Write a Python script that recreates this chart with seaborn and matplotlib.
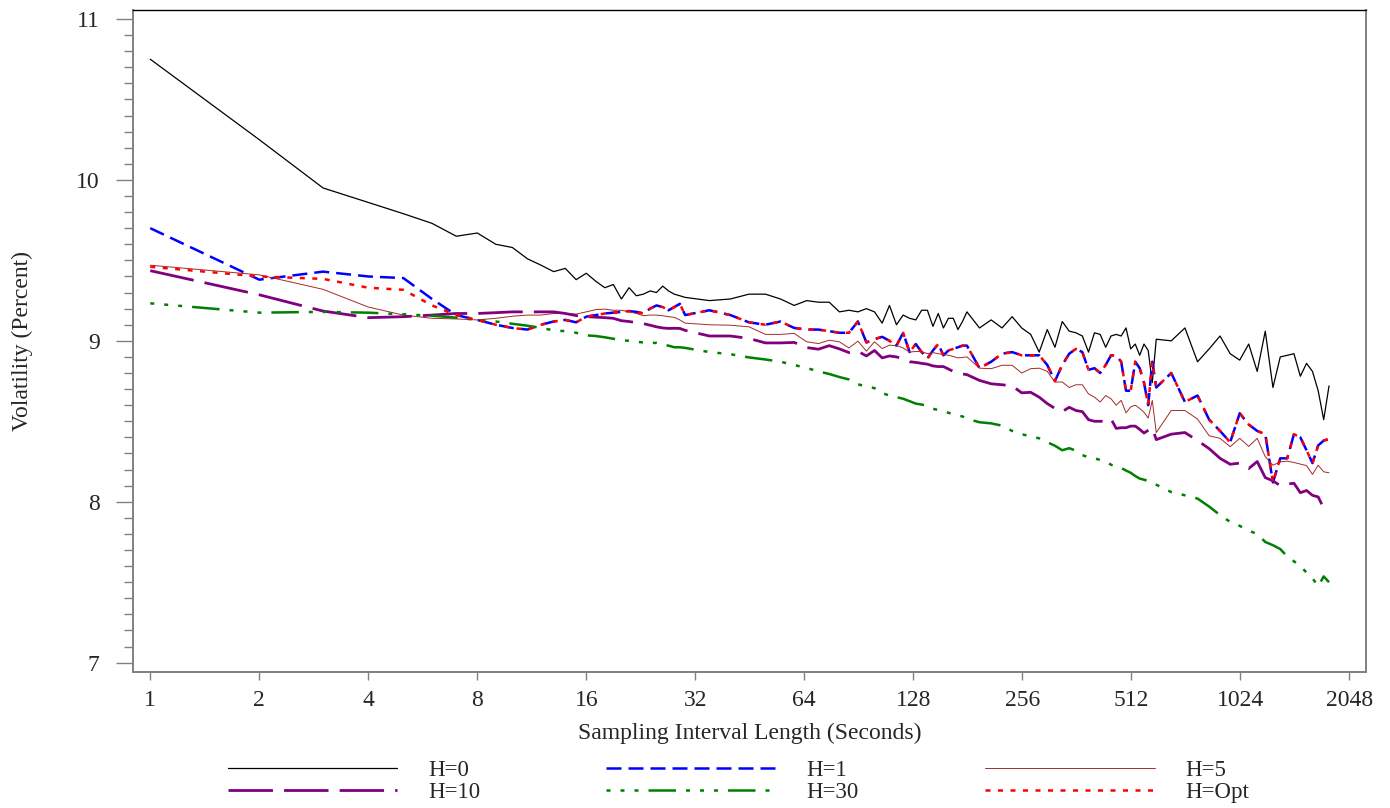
import matplotlib
matplotlib.use("Agg")
import matplotlib.pyplot as plt
import matplotlib.ticker as mticker
import pandas as pd
import seaborn as sns

sns.set_style("ticks")
plt.rcParams["font.family"] = ["Liberation Serif", "DejaVu Serif"]

# sampling interval (seconds): 1..30 by 1, 35..180 by 5, 195..600 by 15, 660..1800 by 60
seconds = [1, 2, 3, 4, 5, 6, 7, 8, 9, 10, 11, 12, 13, 14, 15, 16, 17, 18, 19, 20,
           21, 22, 23, 24, 25, 26, 27, 28, 29, 30,
           35, 40, 45, 50, 55, 60, 65, 70, 75, 80, 85, 90, 95, 100, 105, 110, 115, 120,
           125, 130, 135, 140, 145, 150, 155, 160, 165, 170, 175, 180,
           195, 210, 225, 240, 255, 270, 285, 300, 315, 330, 345, 360, 375, 390, 405,
           420, 435, 450, 465, 480, 495, 510, 525, 540, 555, 570, 585, 600,
           660, 720, 780, 840, 900, 960, 1020, 1080, 1140, 1200, 1260, 1320, 1380,
           1440, 1500, 1560, 1620, 1680, 1740, 1800]

h0 = [10.75, 10.25, 9.95, 9.86, 9.79, 9.73, 9.65, 9.67, 9.60, 9.58,
      9.51, 9.47, 9.43, 9.45, 9.38, 9.42, 9.37, 9.33, 9.35, 9.26,
      9.33, 9.28, 9.29, 9.31, 9.30, 9.34, 9.31, 9.29, 9.28, 9.27,
      9.25, 9.26, 9.29, 9.29, 9.26, 9.22, 9.25, 9.24, 9.24, 9.18,
      9.19, 9.18, 9.20, 9.18, 9.11, 9.22, 9.10, 9.16, 9.14, 9.13,
      9.19, 9.19, 9.09, 9.17, 9.08, 9.14, 9.14, 9.07, 9.12, 9.18,
      9.08, 9.13, 9.08, 9.15, 9.08, 9.04, 8.93, 9.07, 8.96, 9.12,
      9.06, 9.05, 9.03, 8.93, 9.05, 9.04, 8.96, 9.03, 9.04, 9.03,
      9.08, 8.95, 8.98, 8.91, 8.98, 8.94, 8.74, 9.01,
      9.00, 9.08, 8.87, 8.95, 9.03, 8.92, 8.88, 8.98, 8.81, 9.06,
      8.71, 8.90, 8.91, 8.92, 8.78, 8.86, 8.81, 8.69, 8.51, 8.72]

h1 = [9.70, 9.38, 9.43, 9.40, 9.39, 9.26, 9.16, 9.13, 9.10, 9.08,
      9.07, 9.10, 9.12, 9.13, 9.115, 9.15, 9.16, 9.17, 9.175, 9.18,
      9.185, 9.18, 9.17, 9.20, 9.22, 9.21, 9.19, 9.21, 9.23, 9.16,
      9.19, 9.16, 9.115, 9.10, 9.12, 9.08, 9.07, 9.07, 9.06, 9.05,
      9.05, 9.12, 8.99, 9.01, 9.025, 9.00, 8.97, 9.05, 8.93, 8.98,
      8.93, 8.89, 8.94, 8.98, 8.91, 8.94, 8.95, 8.96, 8.97, 8.97,
      8.83, 8.87, 8.92, 8.93, 8.91, 8.91, 8.91, 8.85, 8.75, 8.85,
      8.92, 8.95, 8.93, 8.82, 8.83, 8.80, 8.85, 8.91, 8.91, 8.87,
      8.69, 8.69, 8.87, 8.83, 8.74, 8.60, 8.87, 8.71,
      8.80, 8.62, 8.66, 8.51, 8.44, 8.37, 8.55, 8.48, 8.44, 8.42,
      8.12, 8.27, 8.27, 8.42, 8.40, 8.32, 8.24, 8.35, 8.38, 8.39]

h5 = [9.47, 9.41, 9.32, 9.21, 9.16, 9.14, 9.136, 9.13, 9.14, 9.153,
      9.16, 9.16, 9.17, 9.17, 9.166, 9.18, 9.194, 9.197, 9.19, 9.19,
      9.18, 9.17, 9.156, 9.16, 9.16, 9.156, 9.15, 9.146, 9.13, 9.11,
      9.10, 9.097, 9.087, 9.04, 9.04, 9.046, 8.994, 8.983, 9.004, 8.994,
      8.956, 8.998, 8.936, 8.994, 8.952, 8.973, 8.97, 8.956, 8.93, 8.934,
      8.934, 8.92, 8.927, 8.92, 8.914, 8.91, 8.903, 8.894, 8.897, 8.90,
      8.83, 8.827, 8.848, 8.848, 8.80, 8.827, 8.83, 8.81, 8.744, 8.744,
      8.71, 8.727, 8.727, 8.67, 8.65, 8.62, 8.66, 8.64, 8.60, 8.63,
      8.552, 8.59, 8.60, 8.58, 8.556, 8.52, 8.63, 8.43,
      8.567, 8.567, 8.514, 8.41, 8.394, 8.342, 8.394, 8.344, 8.394, 8.28,
      8.227, 8.248, 8.252, 8.244, 8.234, 8.225, 8.17, 8.227, 8.186, 8.18]

h10 = [9.436, 9.286, 9.185, 9.144, 9.15, 9.16, 9.17, 9.17, 9.175, 9.18,
       9.18, 9.18, 9.18, 9.17, 9.157, 9.15, 9.147, 9.144, 9.14, 9.125,
       9.12, 9.113, 9.107, 9.097, 9.087, 9.08, 9.077, 9.078, 9.077, 9.065,
       9.03, 9.03, 9.015, 8.987, 8.987, 8.99, 8.958, 8.948, 8.97, 8.95,
       8.927, 8.935, 8.906, 8.94, 8.894, 8.906, 8.90, 8.888, 8.87, 8.866,
       8.86, 8.855, 8.844, 8.84, 8.84, 8.825, 8.81, 8.80, 8.794, 8.79,
       8.754, 8.733, 8.727, 8.72, 8.677, 8.68, 8.65, 8.61, 8.58, 8.56,
       8.587, 8.567, 8.56, 8.51, 8.50, 8.50, 8.50, 8.515, 8.456, 8.46,
       8.46, 8.47, 8.47, 8.45, 8.427, 8.444, 8.46, 8.386,
       8.42, 8.43, 8.38, 8.33, 8.27, 8.233, 8.24, 8.206, 8.25, 8.15,
       8.13, 8.10, 8.11, 8.115, 8.056, 8.07, 8.04, 8.03, 7.96, 7.98]

h30 = [9.233, 9.175, 9.18, 9.175, 9.165, 9.156, 9.144, 9.13, 9.12, 9.106,
       9.094, 9.08, 9.065, 9.06, 9.05, 9.034, 9.03, 9.022, 9.013, 9.004,
       9.0, 8.994, 8.99, 8.987, 8.987, 8.975, 8.97, 8.96, 8.96, 8.956,
       8.93, 8.917, 8.897, 8.884, 8.87, 8.85, 8.831, 8.81, 8.794, 8.775,
       8.76, 8.73, 8.716, 8.706, 8.675, 8.66, 8.65, 8.64, 8.625, 8.61,
       8.604, 8.594, 8.578, 8.57, 8.562, 8.553, 8.544, 8.537, 8.53, 8.516,
       8.494, 8.487, 8.473, 8.44, 8.42, 8.406, 8.394, 8.37, 8.348, 8.32,
       8.333, 8.317, 8.29, 8.275, 8.27, 8.26, 8.25, 8.23, 8.22, 8.21,
       8.194, 8.18, 8.16, 8.144, 8.137, 8.13, 8.12, 8.106,
       8.06, 8.04, 8.02, 7.97, 7.917, 7.875, 7.85, 7.82, 7.80, 7.75,
       7.73, 7.706, 7.66, 7.63, 7.60, 7.56, 7.525, 7.475, 7.536, 7.50]

h_opt = [9.46, 9.40, 9.385, 9.33, 9.317, 9.22, 9.16, 9.13, 9.10, 9.08,
         9.07, 9.10, 9.12, 9.13, 9.115, 9.15, 9.16, 9.17, 9.175, 9.18,
         9.185, 9.18, 9.17, 9.20, 9.22, 9.21, 9.19, 9.21, 9.23, 9.16,
         9.19, 9.16, 9.115, 9.10, 9.12, 9.08, 9.07, 9.07, 9.06, 9.05,
         9.05, 9.12, 8.99, 9.01, 9.025, 9.00, 8.97, 9.05, 8.93, 8.98,
         8.93, 8.89, 8.94, 8.98, 8.91, 8.94, 8.95, 8.96, 8.97, 8.97,
         8.83, 8.87, 8.92, 8.93, 8.91, 8.91, 8.91, 8.85, 8.75, 8.85,
         8.92, 8.95, 8.93, 8.82, 8.83, 8.80, 8.85, 8.91, 8.91, 8.87,
         8.69, 8.69, 8.87, 8.83, 8.74, 8.60, 8.87, 8.71,
         8.80, 8.62, 8.66, 8.51, 8.44, 8.37, 8.55, 8.48, 8.44, 8.42,
         8.12, 8.27, 8.27, 8.42, 8.40, 8.32, 8.24, 8.35, 8.38, 8.39]

labels = ["H=0", "H=1", "H=5", "H=10", "H=30", "H=Opt"]
series = [h0, h1, h5, h10, h30, h_opt]
xticks = [1, 2, 4, 8, 16, 32, 64, 128, 256, 512, 1024, 2048]

# line look for each horizon
line_styles = {
    "H=0": dict(color="black", lw=0.9, linestyle="-"),
    "H=1": dict(color="#0000ff", lw=1.8, linestyle=(0, (6, 2.8))),
    "H=5": dict(color="#a52a2a", lw=0.7, linestyle="-"),
    "H=10": dict(color="#800080", lw=2.0, linestyle=(0, (16, 4))),
    "H=30": dict(color="#008000", lw=1.8,
                 linestyle=(0, (1.6, 4, 1.6, 4, 1.6, 4, 11, 4))),
    "H=Opt": dict(color="#ff0000", lw=1.8, linestyle=(0, (2, 3))),
}

fig = plt.figure(figsize=(13.9, 8.08), dpi=100)
ax = fig.add_axes([133 / 1390, 1 - 672 / 808, 1233 / 1390, 662.5 / 808])
ax.set_xscale("log", base=2)

for lab, vals in zip(labels, series):
    df = pd.DataFrame({"seconds": seconds, "vol": vals})
    sns.lineplot(data=df, x="seconds", y="vol", ax=ax, label=lab,
                 estimator=None, legend=False, **line_styles[lab])

ax.set_xlim(0.896, 2277)
ax.set_ylim(6.942, 11.059)
ax.set_xticks(xticks)
ax.xaxis.set_major_formatter(mticker.FuncFormatter(lambda v, p: f"{int(v)}"))
ax.xaxis.set_minor_locator(mticker.NullLocator())
ax.set_yticks([7, 8, 9, 10, 11])
ax.yaxis.set_minor_locator(mticker.MultipleLocator(0.1))

ax.tick_params(axis="x", which="major", length=5.8, width=1, color="#808080",
               labelsize=17, pad=7)
ax.tick_params(axis="y", which="major", length=12, width=1, color="#808080",
               labelsize=17, pad=12)
ax.tick_params(axis="y", which="minor", length=6.5, width=1, color="#808080")

for side in ["left", "bottom", "right"]:
    ax.spines[side].set_color("#808080")
    ax.spines[side].set_linewidth(1.4)
ax.spines["top"].set_color("black")
ax.spines["top"].set_linewidth(1.0)
ax.spines["top"].set_visible(True)
ax.spines["right"].set_visible(True)

ax.set_xlabel("Sampling Interval Length (Seconds)", fontsize=17)
ax.set_ylabel("Volatility (Percent)", fontsize=17)
ax.xaxis.set_label_coords(0.5, -(723 - 672) / 662.5)
ax.yaxis.set_label_coords(-(133 - 33) / 1233, 0.5)

# legend below the plot, filled row by row like the original
handles, labs = ax.get_legend_handles_labels()
order = [0, 3, 1, 4, 2, 5]
fig.legend([handles[i] for i in order], [labs[i] for i in order],
           loc="center", bbox_to_anchor=(738.5 / 1390, 1 - 781.5 / 808),
           ncol=3, frameon=False, fontsize=16.5, handlelength=7.4,
           handletextpad=1.35, columnspacing=5.5, labelspacing=0.0)

fig.savefig("out.png", dpi=100)
